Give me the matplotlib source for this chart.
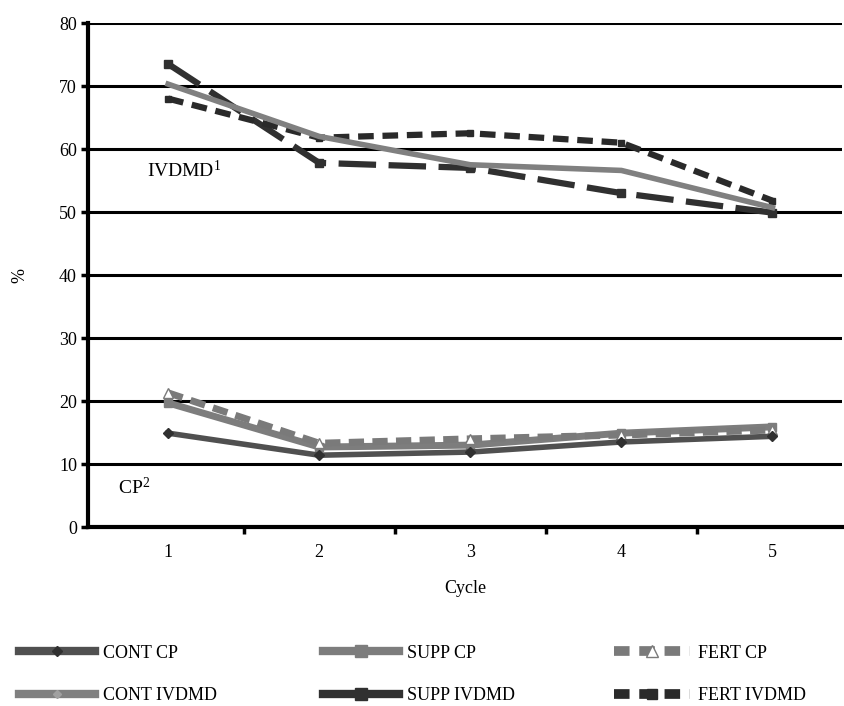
import numpy as np
import matplotlib
matplotlib.use("Agg")
import matplotlib.pyplot as plt
from matplotlib.lines import Line2D

plt.rcParams['font.family'] = ['Liberation Serif', 'DejaVu Serif']
plt.rcParams['mathtext.default'] = 'regular'

# values
cycles = [1, 2, 3, 4, 5]
cont_cp = [14.9, 11.4, 11.9, 13.5, 14.4]
supp_cp = [19.7, 12.7, 13.0, 14.9, 15.9]
fert_cp = [21.3, 13.3, 14.0, 14.6, 15.4]
cont_ivdmd = [70.3, 62.0, 57.5, 56.6, 50.7]
supp_ivdmd = [73.5, 57.8, 57.0, 53.0, 49.9]
fert_ivdmd = [68.0, 61.8, 62.5, 61.0, 51.8]
y_ticks = [0, 10, 20, 30, 40, 50, 60, 70, 80]

fig = plt.figure(figsize=(8.44, 7.06), dpi=100)
ax = fig.add_axes([0.1043, 0.2535, 0.8933, 0.7139])

# horizontal grid lines
for v in y_ticks[1:]:
    ax.axhline(v, color="black", lw=2.2, zorder=1)

# CP series
ax.plot(cycles, cont_cp, color="#505050", lw=4, marker="D", ms=5, mfc="#303030", mec="#303030", zorder=4)
ax.plot(cycles, supp_cp, color="#7d7d7d", lw=5, marker="s", ms=6, mfc="#7d7d7d", mec="#7d7d7d", zorder=3)
ax.plot(cycles, fert_cp, color="#7a7a7a", lw=5, ls=(0, (2.2, 1.2)), marker="^", ms=7, mfc="white", mec="#7a7a7a", zorder=3)

# IVDMD series
ax.plot(cycles, cont_ivdmd, color="#808080", lw=4, zorder=4)
ax.plot(cycles, supp_ivdmd, color="#303030", lw=4.5, ls=(0, (6, 2)), marker="s", ms=6, mfc="#303030", mec="#303030", zorder=3)
ax.plot(cycles, fert_ivdmd, color="#2a2a2a", lw=4.5, ls=(0, (2.5, 1.4)), marker="s", ms=5, mfc="#2a2a2a", mec="#2a2a2a", zorder=3)

ax.text(0.86, 55.6, r"IVDMD$^{1}$", fontsize=14)
ax.text(0.67, 5.3, r"CP$^{2}$", fontsize=14)

ax.set_xlim(0.47, 5.46)
ax.set_ylim(0, 80)
ax.set_yticks(y_ticks)
ax.set_xticks(cycles)
ax.set_xticks([1.5, 2.5, 3.5, 4.5], minor=True)
ax.tick_params(axis="x", which="major", length=0, pad=12, labelsize=13)
ax.tick_params(axis="x", which="minor", length=5, width=2.5, direction="out")
ax.tick_params(axis="y", length=5, width=2.5, direction="out", pad=3, labelsize=13)
for s in ["top", "right"]:
    ax.spines[s].set_visible(False)
ax.spines["left"].set_linewidth(3)
ax.spines["bottom"].set_linewidth(3)
ax.set_xlabel("Cycle", fontsize=13, labelpad=14)
ax.set_ylabel("%", fontsize=13, labelpad=22)

# legend, three columns of two rows
handles = [
    [Line2D([], [], color="#505050", lw=6, marker="D", ms=5, mfc="#303030", mec="#303030"),
     Line2D([], [], color="#808080", lw=6, marker="D", ms=4, mfc="#a0a0a0", mec="#a0a0a0")],
    [Line2D([], [], color="#7d7d7d", lw=6, marker="s", ms=8, mfc="#7d7d7d", mec="#7d7d7d"),
     Line2D([], [], color="#303030", lw=6, marker="s", ms=8, mfc="#303030", mec="#303030")],
    [Line2D([], [], color="#7a7a7a", lw=7, ls=(0, (1.6, 1.0)), marker="^", ms=8, mfc="white", mec="#7a7a7a"),
     Line2D([], [], color="#2a2a2a", lw=7, ls=(0, (1.6, 1.0)), marker="s", ms=7, mfc="#2a2a2a", mec="#2a2a2a")],
]
labels = [["CONT CP", "CONT IVDMD"], ["SUPP CP", "SUPP IVDMD"], ["FERT CP", "FERT IVDMD"]]
x_pos = [0.023, 0.383, 0.728]
for hs, ls_, xp in zip(handles, labels, x_pos):
    fig.legend(hs, ls_, loc="upper left", bbox_to_anchor=(xp, 0.087),
               frameon=False, fontsize=13, handlelength=4.2, handletextpad=0.45,
               labelspacing=1.42, borderaxespad=0, borderpad=0)

fig.savefig("out.png", dpi=100)
